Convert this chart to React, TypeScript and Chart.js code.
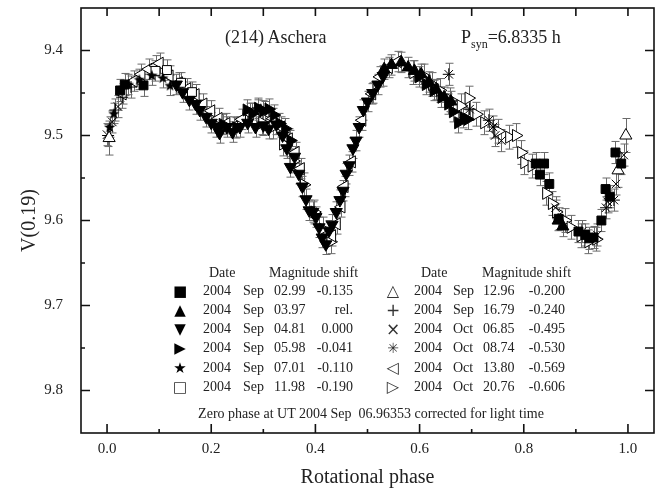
import React, { useEffect, useRef } from 'react';
import { Chart, registerables } from 'chart.js';
Chart.register(...registerables);

const SERIF = '"Liberation Serif", "Times New Roman", serif';

// ---- data: [rotational phase, V(0.19)] ----
const sep0299 = [[0.025,9.447],[0.034,9.44],[0.07,9.441],[0.823,9.533],[0.831,9.546],[0.839,9.533],[0.849,9.557],[0.867,9.598],[0.905,9.613],[0.918,9.617],[0.926,9.621],[0.934,9.62],[0.949,9.6],[0.957,9.563],[0.965,9.572],[0.976,9.52],[0.987,9.533]];
const sep0397 = [[0.532,9.422],[0.546,9.417],[0.565,9.414],[0.578,9.42],[0.59,9.424],[0.603,9.428],[0.618,9.437],[0.632,9.446],[0.647,9.455],[0.66,9.46],[0.866,9.6],[0.875,9.607]];
const sep0481 = [[0.133,9.44],[0.145,9.449],[0.158,9.458],[0.17,9.463],[0.178,9.47],[0.19,9.478],[0.2,9.485],[0.21,9.49],[0.216,9.497],[0.23,9.49],[0.241,9.496],[0.255,9.49],[0.27,9.485],[0.285,9.49],[0.3,9.488],[0.31,9.492],[0.325,9.487],[0.337,9.5],[0.345,9.515],[0.352,9.537],[0.36,9.525],[0.368,9.545],[0.375,9.56],[0.382,9.575],[0.388,9.588],[0.395,9.59],[0.401,9.596],[0.407,9.608],[0.413,9.62],[0.42,9.628],[0.426,9.612],[0.432,9.605],[0.44,9.59],[0.447,9.576],[0.453,9.565],[0.459,9.545],[0.465,9.535],[0.472,9.515],[0.478,9.506],[0.484,9.49],[0.492,9.47],[0.5,9.46],[0.51,9.45],[0.52,9.44],[0.53,9.43]];
const sep0598 = [[0.222,9.487],[0.248,9.491],[0.268,9.47],[0.279,9.474],[0.29,9.468],[0.3,9.471],[0.31,9.469],[0.32,9.476],[0.331,9.486],[0.342,9.492],[0.352,9.506],[0.598,9.431],[0.612,9.44],[0.627,9.447],[0.642,9.455],[0.655,9.463],[0.664,9.472],[0.674,9.485],[0.684,9.479],[0.692,9.481]];
const sep0701 = [[0.005,9.49],[0.013,9.474],[0.041,9.44],[0.062,9.434],[0.086,9.429],[0.107,9.432],[0.121,9.441]];
const sep1198 = [[0.093,9.424],[0.115,9.423],[0.142,9.438],[0.163,9.449]];
const sep1296 = [[0.004,9.503],[0.981,9.541],[0.996,9.5]];
const sep1679 = [[0.002,9.5],[0.016,9.47],[0.029,9.455],[0.046,9.443]];
const oct0685 = [[0.0,9.499],[0.01,9.484],[0.021,9.466],[0.745,9.5],[0.757,9.506],[0.861,9.585],[0.912,9.613],[0.941,9.617],[0.961,9.578],[0.977,9.557],[0.992,9.523]];
const oct0874 = [[0.656,9.428],[0.696,9.469],[0.733,9.482],[0.741,9.49],[0.958,9.585],[0.973,9.576]];
const oct1380 = [[0.03,9.451],[0.051,9.436],[0.066,9.428],[0.08,9.422],[0.094,9.418],[0.101,9.415],[0.12,9.43],[0.138,9.438],[0.154,9.445],[0.17,9.452],[0.185,9.463],[0.2,9.471],[0.214,9.48],[0.229,9.486],[0.244,9.49],[0.259,9.481],[0.274,9.474],[0.289,9.47],[0.304,9.472],[0.319,9.48],[0.334,9.49],[0.349,9.504],[0.362,9.52],[0.372,9.539],[0.432,9.618],[0.441,9.604],[0.45,9.584],[0.456,9.56],[0.47,9.531],[0.49,9.482],[0.509,9.451],[0.524,9.431],[0.541,9.42],[0.558,9.413]];
const oct2076 = [[0.298,9.485],[0.318,9.49],[0.338,9.51],[0.358,9.53],[0.378,9.558],[0.398,9.59],[0.414,9.61],[0.429,9.625],[0.588,9.426],[0.608,9.43],[0.624,9.44],[0.639,9.447],[0.659,9.458],[0.679,9.465],[0.694,9.456],[0.709,9.475],[0.724,9.485],[0.751,9.495],[0.772,9.502],[0.785,9.5],[0.795,9.52],[0.801,9.532],[0.815,9.536],[0.843,9.568],[0.854,9.58],[0.862,9.59],[0.879,9.6],[0.89,9.608],[0.909,9.618],[0.924,9.625],[0.939,9.622]];

const seriesData = [sep0299, sep0397, sep0481, sep0598, sep0701, sep1198, sep1296, sep1679, oct0685, oct0874, oct1380, oct2076];
const seriesErr = [0.013, 0.012, 0.012, 0.012, 0.012, 0.012, 0.02, 0.013, 0.013, 0.013, 0.012, 0.014];

const legendYear = ['2004','2004','2004','2004','2004','2004','2004','2004','2004','2004','2004','2004'];
const legendMonth = ['Sep','Sep','Sep','Sep','Sep','Sep','Sep','Sep','Oct','Oct','Oct','Oct'];
const legendDay = ['02.99','03.97','04.81','05.98','07.01','11.98','12.96','16.79','06.85','08.74','13.80','20.76'];
const legendShift = ['-0.135','rel.','0.000','-0.041','-0.110','-0.190','-0.200','-0.240','-0.495','-0.530','-0.569','-0.606'];
const legendGlyph = ['\u25A0','\u25B2','\u25BC','\u25B6','\u2605','\u25A1','\u25B3','+','\u00D7','\u2733','\u25C1','\u25B7'];

const xMajor = [0, 0.2, 0.4, 0.6, 0.8, 1.0];
const xMinor = [0.1, 0.3, 0.5, 0.7, 0.9];
const yMajor = [9.4, 9.5, 9.6, 9.7, 9.8];
const yMinor = [9.45, 9.55, 9.65, 9.75];

function makeStar(size: number) {
  const c = document.createElement('canvas');
  c.width = size; c.height = size;
  const g = c.getContext('2d')!;
  const cx = size / 2, cy = size / 2, R = size / 2, r = R * 0.42;
  g.beginPath();
  for (let i = 0; i < 10; i++) {
    const a = -Math.PI / 2 + (i * Math.PI) / 5;
    const rr = i % 2 === 0 ? R : r;
    const px = cx + rr * Math.cos(a), py = cy + rr * Math.sin(a) + 0.5;
    if (i === 0) g.moveTo(px, py); else g.lineTo(px, py);
  }
  g.closePath();
  g.fillStyle = '#000';
  g.fill();
  return c;
}

const errorBars = {
  id: 'errorBars',
  beforeDatasetsDraw(chart: any) {
    const { ctx, scales } = chart;
    const x = scales.x, y = scales.y;
    ctx.save();
    ctx.strokeStyle = '#6a6a6a';
    ctx.lineWidth = 1;
    seriesData.forEach((ser, i) => {
      const e = seriesErr[i];
      ser.forEach(([px, py]) => {
        const X = Math.round(x.getPixelForValue(px)) + 0.5;
        const y1 = y.getPixelForValue(py - e), y2 = y.getPixelForValue(py + e);
        ctx.beginPath();
        ctx.moveTo(X, y1); ctx.lineTo(X, y2);
        ctx.moveTo(X - 4, y1); ctx.lineTo(X + 4, y1);
        ctx.moveTo(X - 4, y2); ctx.lineTo(X + 4, y2);
        ctx.stroke();
      });
    });
    ctx.restore();
  },
};

const frameTicks = {
  id: 'frameTicks',
  afterDraw(chart: any) {
    const { ctx, chartArea: { left, right, top, bottom }, scales } = chart;
    const x = scales.x, y = scales.y;
    ctx.save();
    ctx.strokeStyle = '#111';
    ctx.lineWidth = 1.6;
    ctx.strokeRect(left, top, right - left, bottom - top);
    ctx.beginPath();
    xMajor.forEach((v) => {
      const p = x.getPixelForValue(v);
      ctx.moveTo(p, bottom); ctx.lineTo(p, bottom - 9);
      ctx.moveTo(p, top); ctx.lineTo(p, top + 8);
    });
    xMinor.forEach((v) => {
      const p = x.getPixelForValue(v);
      ctx.moveTo(p, bottom); ctx.lineTo(p, bottom - 4);
      ctx.moveTo(p, top); ctx.lineTo(p, top + 8);
    });
    yMajor.forEach((v) => {
      const p = y.getPixelForValue(v);
      ctx.moveTo(left, p); ctx.lineTo(left + 9, p);
      ctx.moveTo(right, p); ctx.lineTo(right - 9, p);
    });
    yMinor.forEach((v) => {
      const p = y.getPixelForValue(v);
      ctx.moveTo(left, p); ctx.lineTo(left + 4, p);
      ctx.moveTo(right, p); ctx.lineTo(right - 9, p);
    });
    ctx.stroke();
    ctx.restore();
  },
};

export default function App() {
  const ref = useRef<HTMLCanvasElement | null>(null);

  useEffect(() => {
    if (!ref.current) return;
    const star = makeStar(12);
    const B = '#000', W = '#fff';
    const styles: any[] = [
      { pointStyle: 'rect', radius: 6.3, bg: B, rot: 0 },
      { pointStyle: 'triangle', radius: 7, bg: B, rot: 0 },
      { pointStyle: 'triangle', radius: 7, bg: B, rot: 180 },
      { pointStyle: 'triangle', radius: 7, bg: B, rot: 90 },
      { pointStyle: star, radius: 6, bg: B, rot: 0 },
      { pointStyle: 'rect', radius: 6.3, bg: W, rot: 0 },
      { pointStyle: 'triangle', radius: 7, bg: W, rot: 0 },
      { pointStyle: 'cross', radius: 6, bg: W, rot: 0 },
      { pointStyle: 'crossRot', radius: 6, bg: W, rot: 0 },
      { pointStyle: 'star', radius: 6, bg: W, rot: 0 },
      { pointStyle: 'triangle', radius: 7, bg: W, rot: 270 },
      { pointStyle: 'triangle', radius: 7, bg: W, rot: 90 },
    ];
    const datasets = seriesData.map((ser, i) => ({
      label: `${legendYear[i]} ${legendMonth[i]} ${legendDay[i]}`,
      data: ser.map(([px, py]) => ({ x: px, y: py })),
      pointStyle: styles[i].pointStyle,
      pointRadius: styles[i].radius,
      pointRotation: styles[i].rot,
      pointBackgroundColor: styles[i].bg,
      pointBorderColor: '#000',
      pointBorderWidth: 1,
      showLine: false,
    }));
    const chart = new Chart(ref.current, {
      type: 'scatter',
      data: { datasets },
      plugins: [errorBars, frameTicks],
      options: {
        animation: false,
        responsive: false,
        devicePixelRatio: 1,
        layout: { padding: { top: 7, right: 6, left: 0, bottom: 0 } },
        plugins: { legend: { display: false }, tooltip: { enabled: false } },
        scales: {
          x: {
            type: 'linear',
            min: -0.05,
            max: 1.05,
            afterBuildTicks: (s: any) => { s.ticks = xMajor.map((v) => ({ value: v })); },
            afterFit: (s: any) => { s.height = 60; s.paddingLeft = 0; s.paddingRight = 0; s.paddingTop = 0; s.paddingBottom = 0; },
            grid: { display: false, drawTicks: false },
            border: { display: false },
            ticks: {
              padding: 7,
              color: '#222',
              font: { family: SERIF, size: 15 },
              callback: (v: any) => Number(v).toFixed(1),
            },
            title: {
              display: true,
              text: 'Rotational phase',
              color: '#222',
              font: { family: SERIF, size: 20 },
              padding: { top: 0, bottom: 3 },
            },
          },
          y: {
            type: 'linear',
            reverse: true,
            min: 9.35,
            max: 9.85,
            afterBuildTicks: (s: any) => { s.ticks = yMajor.map((v) => ({ value: v })); },
            afterFit: (s: any) => { s.width = 81; s.paddingTop = 0; s.paddingBottom = 0; s.paddingLeft = 0; s.paddingRight = 0; },
            grid: { display: false, drawTicks: false },
            border: { display: false },
            ticks: {
              padding: 18,
              color: '#222',
              font: { family: SERIF, size: 15 },
              callback: (v: any) => Number(v).toFixed(1),
            },
            title: {
              display: true,
              text: 'V(0.19)',
              color: '#222',
              font: { family: SERIF, size: 20 },
              padding: { top: 18, bottom: 0 },
            },
          },
        },
      } as any,
    });
    return () => chart.destroy();
  }, []);

  const txt = (left: number, cy: number, s: string, key: string, extra: any = {}) => (
    <div key={key} style={{ position: 'absolute', left, top: cy - 8, fontSize: 14, lineHeight: '16px', fontFamily: SERIF, color: '#222', whiteSpace: 'nowrap', ...extra }}>{s}</div>
  );
  const rtxt = (right: number, cy: number, s: string, key: string) => (
    <div key={key} style={{ position: 'absolute', right: 662 - right, top: cy - 8, fontSize: 14, lineHeight: '16px', fontFamily: SERIF, color: '#222', whiteSpace: 'nowrap' }}>{s}</div>
  );
  const rowY = [290.7, 310, 329.2, 348.4, 367.7, 387.2];
  const cols = [
    { sym: 180, year: 203, month: 243, day: 274, shift: 353 },
    { sym: 393, year: 414, month: 453, day: 483, shift: 565 },
  ];
  const glyphSize = [15, 15, 15, 15, 15, 15, 16, 17, 17, 14, 16, 16];
  const items: any[] = [];
  legendDay.forEach((d, i) => {
    const c = cols[i < 6 ? 0 : 1];
    const cy = rowY[i % 6];
    const open = i >= 5;
    items.push(
      <div key={'g' + i} style={{ position: 'absolute', left: c.sym - 12, width: 24, top: cy - 10, textAlign: 'center', fontSize: glyphSize[i], lineHeight: '20px', fontFamily: '"DejaVu Sans", sans-serif', color: open ? '#333' : '#000' }}>{legendGlyph[i]}</div>
    );
    items.push(txt(c.year, cy, legendYear[i], 'y' + i));
    items.push(txt(c.month, cy, legendMonth[i], 'm' + i));
    items.push(txt(c.day, cy, d, 'd' + i));
    items.push(rtxt(c.shift, cy, legendShift[i], 's' + i));
  });

  return (
    <div style={{ position: 'absolute', left: 0, top: 0, width: 662, height: 493, background: '#fff' }}>
      <canvas ref={ref} width={662} height={493} style={{ display: 'block' }} />
      <div style={{ position: 'absolute', left: 225, top: 26, fontSize: 18, lineHeight: '22px', fontFamily: SERIF, color: '#222', whiteSpace: 'nowrap' }}>(214) Aschera</div>
      <div style={{ position: 'absolute', left: 461, top: 26, fontSize: 18, lineHeight: '22px', fontFamily: SERIF, color: '#222', whiteSpace: 'nowrap' }}>
        P<sub style={{ fontSize: 12, verticalAlign: '-5px' }}>syn</sub>=6.8335 h
      </div>
      {txt(209, 272.7, 'Date', 'hd1')}
      {txt(269, 272.7, 'Magnitude shift', 'hm1')}
      {txt(421, 272.7, 'Date', 'hd2')}
      {txt(482, 272.7, 'Magnitude shift', 'hm2')}
      {items}
      <div style={{ position: 'absolute', left: 0, width: 742, top: 406, textAlign: 'center', fontSize: 14, lineHeight: '16px', fontFamily: SERIF, color: '#222', whiteSpace: 'pre' }}>Zero phase at UT 2004 Sep  06.96353 corrected for light time</div>
    </div>
  );
}
